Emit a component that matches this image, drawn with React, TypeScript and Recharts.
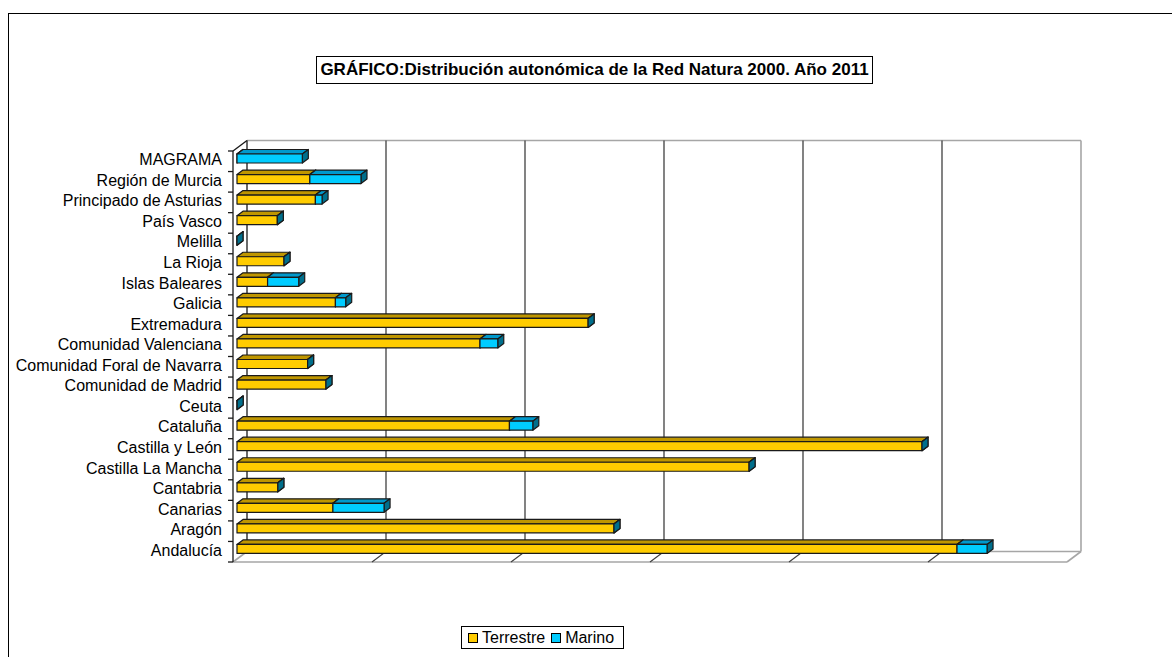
import React from 'react'
import { BarChart, Bar, XAxis, YAxis, CartesianGrid } from 'recharts'

// datos (ha), de arriba abajo
const REGIONS = [
  'MAGRAMA', 'Región de Murcia', 'Principado de Asturias', 'País Vasco', 'Melilla',
  'La Rioja', 'Islas Baleares', 'Galicia', 'Extremadura', 'Comunidad Valenciana',
  'Comunidad Foral de Navarra', 'Comunidad de Madrid', 'Ceuta', 'Cataluña',
  'Castilla y León', 'Castilla La Mancha', 'Cantabria', 'Canarias', 'Aragón', 'Andalucía',
]
const TERRESTRE = [
  0, 262000, 282000, 145000, 46, 169000, 110000, 354000, 1263000, 874000,
  254000, 320000, 630, 980000, 2464000, 1842000, 147000, 345000, 1356000, 2590000,
]
const MARINO = [
  235000, 184000, 24000, 0, 0, 0, 112000, 37000, 0, 64000,
  0, 0, 0, 84000, 0, 0, 0, 184000, 0, 108000,
]
const X_TICKS = [0, 500000, 1000000, 1500000, 2000000, 2500000, 3000000]
const SERIES = [
  { key: 'terrestre', name: 'Terrestre' },
  { key: 'marino', name: 'Marino' },
]

const data = REGIONS.map((name, i) => ({ name, terrestre: TERRESTRE[i], marino: MARINO[i] }))

const W = 1172
const H = 657
const FONT = '"Liberation Sans", Arial, sans-serif'

// plano frontal de las barras
const P_LEFT = 237
const P_RIGHT = 1071
const P_TOP = 148
const P_BOTTOM = 559
const YAXIS_W = 200
// desplazamientos 3D
const FRONT = { dx: -4, dy: 3 }
const BACK = { dx: 10, dy: -7.5 }
const BAR_DX = 6
const BAR_DY = 4.5

const YELLOW = '#FFCC00'
const YELLOW_TOP = '#BF9600'
const YELLOW_SIDE = '#8C7000'
const CYAN = '#00CCFF'
const CYAN_TOP = '#0099CC'
const CYAN_SIDE = '#006F8C'
const EDGE = '#1a1a1a'
const WALL_GRAY = '#a6a6a6'

function Bar3D(props: any) {
  const { x, y, width, height, fill, topFill, sideFill } = props
  const w = Math.max(width || 0, 0)
  const h = height
  return (
    <g stroke={EDGE} strokeWidth={1.2} strokeLinejoin="round">
      <polygon
        points={`${x},${y} ${x + BAR_DX},${y - BAR_DY} ${x + w + BAR_DX},${y - BAR_DY} ${x + w},${y}`}
        fill={topFill}
      />
      <polygon
        points={`${x + w},${y} ${x + w + BAR_DX},${y - BAR_DY} ${x + w + BAR_DX},${y + h - BAR_DY} ${x + w},${y + h}`}
        fill={sideFill}
      />
      <rect x={x} y={y} width={w} height={h} fill={fill} />
    </g>
  )
}

function RegionTick(props: any) {
  const { y, payload } = props
  return (
    <text
      x={222}
      y={y + 1.5}
      textAnchor="end"
      dominantBaseline="central"
      fontFamily={FONT}
      fontSize={16}
      fill="#000"
    >
      {payload.value}
    </text>
  )
}

function GridLine(props: any) {
  const { x1, index } = props
  const last = X_TICKS.length - 1
  if (index === 0 || index === last) return <g key={`g${index}`} />
  return (
    <g key={`g${index}`}>
      <line
        x1={x1 + BACK.dx} y1={P_TOP + BACK.dy} x2={x1 + BACK.dx} y2={P_BOTTOM + BACK.dy}
        stroke="#404040" strokeWidth={1.3}
      />
      <line
        x1={x1 + FRONT.dx} y1={P_BOTTOM + FRONT.dy} x2={x1 + BACK.dx} y2={P_BOTTOM + BACK.dy}
        stroke="#404040" strokeWidth={1.2}
      />
    </g>
  )
}

function Walls() {
  const fl = P_LEFT + FRONT.dx
  const fr = P_RIGHT + FRONT.dx
  const ft = P_TOP + FRONT.dy
  const fb = P_BOTTOM + FRONT.dy
  const bl = P_LEFT + BACK.dx
  const br = P_RIGHT + BACK.dx
  const bt = P_TOP + BACK.dy
  const bb = P_BOTTOM + BACK.dy
  const n = REGIONS.length
  const band = (fb - ft) / n
  return (
    <svg width={W} height={H} style={{ position: 'absolute', left: 0, top: 0 }}>
      <g fill="none" strokeWidth={1.6}>
        <line x1={bl} y1={bt} x2={br} y2={bt} stroke={WALL_GRAY} />
        <line x1={br} y1={bt} x2={br} y2={bb} stroke={WALL_GRAY} />
        <line x1={bl} y1={bb} x2={br} y2={bb} stroke={WALL_GRAY} />
        <line x1={fl} y1={fb} x2={fr} y2={fb} stroke={WALL_GRAY} />
        <line x1={fr} y1={fb} x2={br} y2={bb} stroke={WALL_GRAY} />
        <line x1={fl} y1={fb} x2={bl} y2={bb} stroke={WALL_GRAY} />
      </g>
      <g stroke={EDGE} strokeWidth={1.3}>
        <line x1={bl} y1={bt} x2={bl} y2={bb} />
        <line x1={fl} y1={ft} x2={bl} y2={bt} />
        <line x1={fl} y1={ft} x2={fl} y2={fb} />
        {Array.from({ length: n + 1 }, (_, k) => (
          <line key={k} x1={fl - 5} y1={ft + k * band} x2={fl} y2={ft + k * band} />
        ))}
      </g>
    </svg>
  )
}

function LegendBox() {
  const colors = [YELLOW, CYAN]
  return (
    <div
      style={{
        position: 'absolute', left: 461, top: 626, width: 163, height: 23,
        border: '1px solid #000', background: '#fff', boxSizing: 'border-box',
        display: 'flex', alignItems: 'center', paddingLeft: 6,
        fontFamily: FONT, fontSize: 16, color: '#000', lineHeight: '16px',
      }}
    >
      {SERIES.map((s, i) => (
        <span key={s.key} style={{ display: 'inline-flex', alignItems: 'center', marginRight: 6 }}>
          <span
            style={{
              display: 'inline-block', width: 8, height: 8, background: colors[i],
              border: '1px solid #000', marginRight: 4,
            }}
          />
          {s.name}
        </span>
      ))}
    </div>
  )
}

export default function App() {
  return (
    <div style={{ position: 'relative', width: W, height: H, overflow: 'hidden', background: '#fff' }}>
      <style>{'body{margin:0;overflow:hidden}'}</style>
      <div
        style={{
          position: 'absolute', left: 8, top: 13, width: W + 40, height: H + 40,
          border: '1px solid #000', boxSizing: 'border-box',
        }}
      />
      <div
        style={{
          position: 'absolute', left: 316, top: 56, width: 557, height: 28,
          border: '1px solid #000', boxSizing: 'border-box', background: '#fff',
          display: 'flex', alignItems: 'center', justifyContent: 'center',
          fontFamily: FONT, fontWeight: 'bold', fontSize: 17, color: '#000', whiteSpace: 'nowrap',
        }}
      >
        GRÁFICO:Distribución autonómica de la Red Natura 2000. Año 2011
      </div>
      <Walls />
      <div style={{ position: 'absolute', left: 0, top: 0 }}>
        <BarChart
          width={W}
          height={H}
          data={data}
          layout="vertical"
          barSize={9}
          margin={{ top: P_TOP, bottom: H - P_BOTTOM, left: P_LEFT - YAXIS_W, right: W - P_RIGHT }}
        >
          <CartesianGrid horizontal={false} vertical={GridLine} />
          <XAxis type="number" domain={[0, 3000000]} ticks={X_TICKS} hide />
          <YAxis
            type="category"
            dataKey="name"
            width={YAXIS_W}
            axisLine={false}
            tickLine={false}
            interval={0}
            tick={<RegionTick />}
          />
          <Bar
            dataKey="terrestre"
            name="Terrestre"
            stackId="a"
            fill={YELLOW}
            isAnimationActive={false}
            shape={(p: any) => <Bar3D {...p} fill={YELLOW} topFill={YELLOW_TOP} sideFill={YELLOW_SIDE} />}
          />
          <Bar
            dataKey="marino"
            name="Marino"
            stackId="a"
            fill={CYAN}
            isAnimationActive={false}
            shape={(p: any) => <Bar3D {...p} fill={CYAN} topFill={CYAN_TOP} sideFill={CYAN_SIDE} />}
          />
        </BarChart>
      </div>
      <LegendBox />
    </div>
  )
}
